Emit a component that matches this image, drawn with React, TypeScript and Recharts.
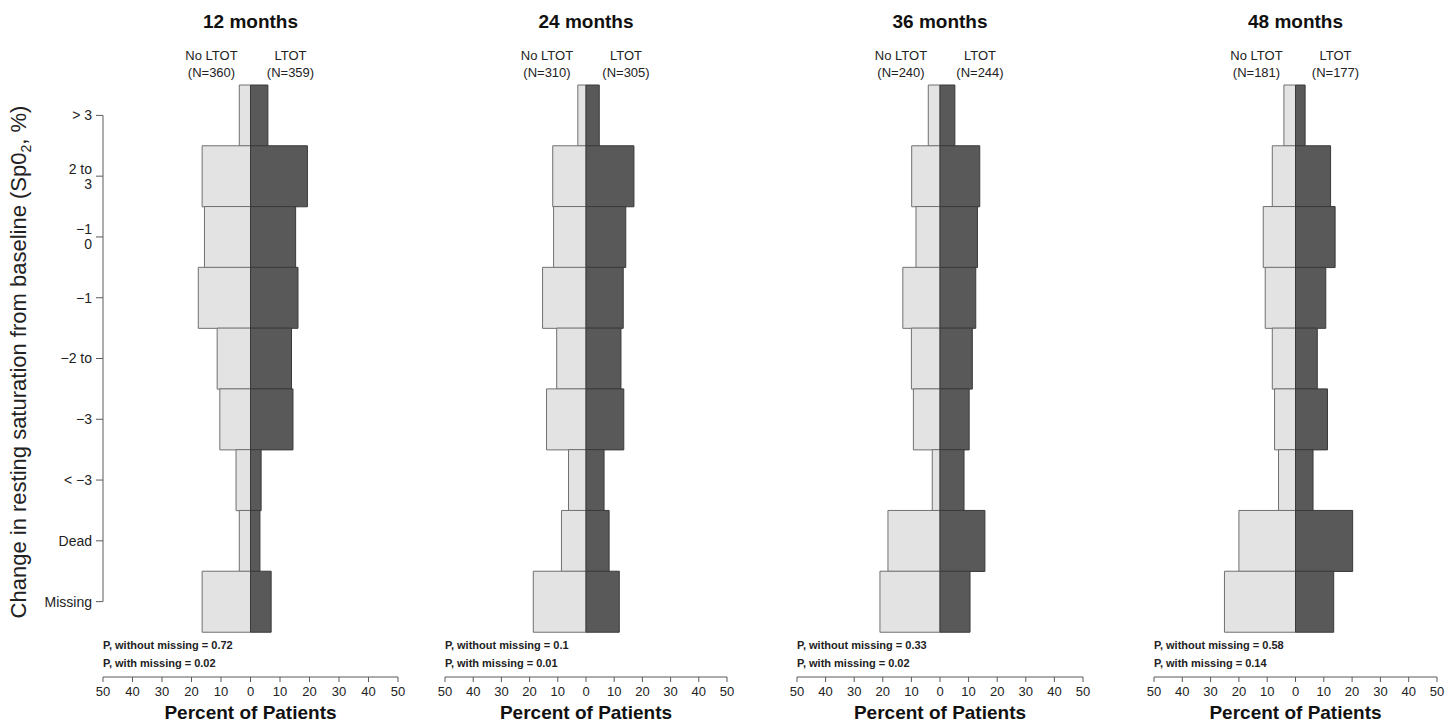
import React from 'react'
import { BarChart, Bar, XAxis, YAxis } from 'recharts'

// change in resting SpO2 categories, top to bottom (labels as printed)
const categories = ['> 3', '2 to\n3', '\u22121\n0', '\u22121', '\u22122 to', '\u22123', '< \u22123', 'Dead', 'Missing']

// percent of patients per category
const noLtot12 = [3.8, 16.4, 15.6, 17.7, 11.3, 10.4, 4.9, 3.8, 16.4]
const ltot12 = [5.9, 19.3, 15.3, 16.1, 13.9, 14.4, 3.6, 3.2, 7.0]
const noLtot24 = [2.9, 11.8, 11.5, 15.4, 10.4, 14.0, 6.2, 8.7, 18.7]
const ltot24 = [4.7, 17.0, 14.1, 13.2, 12.4, 13.4, 6.4, 8.2, 11.8]
const noLtot36 = [4.1, 9.9, 8.4, 13.0, 10.0, 9.3, 2.7, 18.2, 21.0]
const ltot36 = [5.2, 13.9, 13.1, 12.5, 11.3, 10.2, 8.4, 15.7, 10.5]
const noLtot48 = [4.1, 8.2, 11.4, 10.7, 8.2, 7.4, 6.0, 20.0, 25.1]
const ltot48 = [3.4, 12.4, 14.0, 10.7, 7.7, 11.3, 6.2, 20.2, 13.5]

const titles = ['12 months', '24 months', '36 months', '48 months']
const nNoLtot = [360, 310, 240, 181]
const nLtot = [359, 305, 244, 177]
const pWithout = ['0.72', '0.1', '0.33', '0.58']
const pWith = ['0.02', '0.01', '0.02', '0.14']
const xTicks = [-50, -40, -30, -20, -10, 0, 10, 20, 30, 40, 50]

const seriesNo = [noLtot12, noLtot24, noLtot36, noLtot48]
const seriesL = [ltot12, ltot24, ltot36, ltot48]

// layout
const H = 723
const TOP = 85
const AXIS_Y = 677
const PAD_BOTTOM = 45
const BAND = (AXIS_Y - TOP - PAD_BOTTOM) / categories.length
const plotX: [number, number][] = [
  [103, 398],
  [445, 727],
  [797, 1083],
  [1154, 1437],
]
const FONT = '"Liberation Sans", Arial, sans-serif'
const AXIS_COLOR = '#5a5a5a'

function YTick(props: any) {
  const { y, payload, index } = props
  const ax = plotX[0][0]
  const lines = String(payload.value).split('\n')
  const lh = 15
  return (
    <g>
      <line x1={ax - 7} x2={ax} y1={y} y2={y} stroke={AXIS_COLOR} />
      {index === 0 && (
        <line x1={ax} x2={ax} y1={y} y2={y + (categories.length - 1) * BAND} stroke={AXIS_COLOR} />
      )}
      {lines.map((l, i) => (
        <text
          key={i}
          x={ax - 11}
          y={y - ((lines.length - 1) * lh) / 2 + i * lh}
          dy="0.35em"
          textAnchor="end"
          fontSize={14}
          fill="#222"
        >
          {l}
        </text>
      ))}
    </g>
  )
}

function Panel({ idx }: { idx: number }) {
  const [x0, x1] = plotX[idx]
  const showY = idx === 0
  const padL = showY ? 0 : 20
  const chartLeft = showY ? 0 : x0 - padL
  const width = x1 + 16 - chartLeft
  const zero = (x0 + x1) / 2
  const data = categories.map((c, i) => ({
    cat: c,
    no: -seriesNo[idx][i],
    ltot: seriesL[idx][i],
  }))
  return (
    <>
      <div style={{ position: 'absolute', left: chartLeft, top: 0 }}>
        <BarChart
          width={width}
          height={H}
          data={data}
          layout="vertical"
          stackOffset="sign"
          barCategoryGap={0}
          margin={{ top: TOP, right: 16, bottom: 0, left: padL }}
        >
          <XAxis
            type="number"
            domain={[-50, 50]}
            ticks={xTicks}
            tickFormatter={(v: number) => String(Math.abs(v))}
            height={H - AXIS_Y}
            tickSize={5}
            tickMargin={5}
            interval={0}
            stroke={AXIS_COLOR}
            tick={{ fontSize: 13, fill: '#222' }}
            label={{
              value: 'Percent of Patients',
              position: 'insideBottom',
              offset: 4,
              style: { fontSize: 19, fontWeight: 'bold', fill: '#111', textAnchor: 'middle' },
            }}
          />
          {showY ? (
            <YAxis
              type="category"
              dataKey="cat"
              width={x0}
              padding={{ top: 0, bottom: PAD_BOTTOM }}
              axisLine={false}
              tickLine={false}
              interval={0}
              tick={<YTick />}
            />
          ) : (
            <YAxis type="category" dataKey="cat" hide padding={{ top: 0, bottom: PAD_BOTTOM }} />
          )}
          <Bar dataKey="no" stackId="a" fill="#e3e3e3" stroke="#707070" strokeWidth={1} isAnimationActive={false} />
          <Bar dataKey="ltot" stackId="a" fill="#595959" stroke="#3a3a3a" strokeWidth={1} isAnimationActive={false} />
        </BarChart>
      </div>
      <div style={{ position: 'absolute', left: zero, top: 12, transform: 'translateX(-50%)', fontSize: 19, fontWeight: 'bold', whiteSpace: 'nowrap', lineHeight: '20px', color: '#111' }}>
        {titles[idx]}
      </div>
      <div style={{ position: 'absolute', left: zero - 39, top: 47, transform: 'translateX(-50%)', fontSize: 13, textAlign: 'center', whiteSpace: 'nowrap', lineHeight: '17px', color: '#222' }}>
        No LTOT<br />(N={nNoLtot[idx]})
      </div>
      <div style={{ position: 'absolute', left: zero + 40, top: 47, transform: 'translateX(-50%)', fontSize: 13, textAlign: 'center', whiteSpace: 'nowrap', lineHeight: '17px', color: '#222' }}>
        LTOT<br />(N={nLtot[idx]})
      </div>
      <div style={{ position: 'absolute', left: x0, top: 636, fontSize: 11, fontWeight: 'bold', whiteSpace: 'nowrap', lineHeight: '18px', color: '#222' }}>
        P, without missing = {pWithout[idx]}
        <br />
        P, with missing = {pWith[idx]}
      </div>
    </>
  )
}

export default function App() {
  return (
    <div style={{ position: 'absolute', left: 0, top: 0, width: 1448, height: H, background: '#fff', fontFamily: FONT, overflow: 'hidden' }}>
      {titles.map((_, i) => (
        <Panel key={i} idx={i} />
      ))}
      <div
        style={{
          position: 'absolute',
          left: 20,
          top: 362,
          transform: 'translate(-50%, -50%) rotate(-90deg)',
          fontSize: 22,
          whiteSpace: 'nowrap',
          color: '#222',
        }}
      >
        Change in resting saturation from baseline (Sp0<sub style={{ fontSize: 14 }}>2</sub>, %)
      </div>
    </div>
  )
}
